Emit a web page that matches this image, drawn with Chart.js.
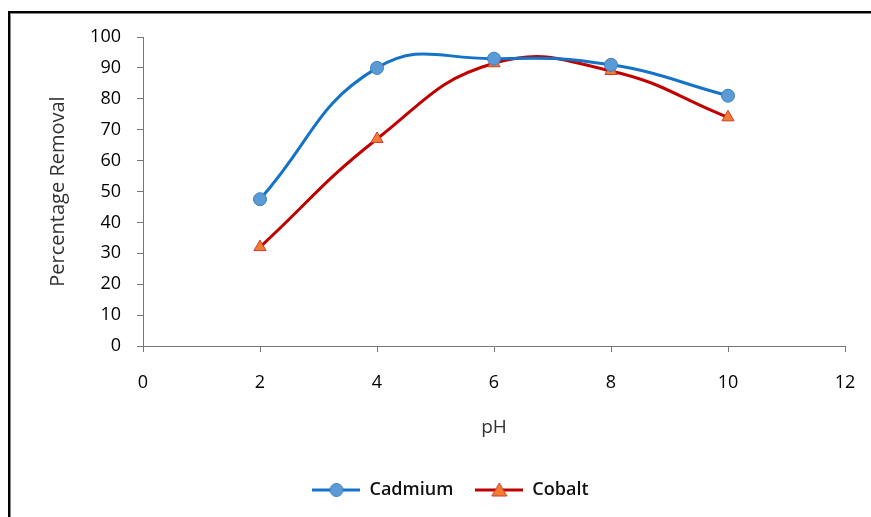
<!DOCTYPE html>
<html>
<head>
<meta charset="utf-8">
<script src="https://cdn.jsdelivr.net/npm/chart.js@4/dist/chart.umd.min.js"></script>
<style>
  html, body { margin: 0; padding: 0; background: #fff; }
  #wrap { position: relative; width: 871px; height: 517px; overflow: hidden; }
  #frame { position: absolute; left: 8px; top: 11px; width: 900px; height: 600px;
           border-left: 2px solid #000; border-top: 2px solid #000; box-shadow: inset 1px 1px 0 #888; pointer-events: none; }
  canvas { position: absolute; left: 0; top: 0; }
</style>
</head>
<body>
<div id="wrap">
  <canvas id="c" width="871" height="517"></canvas>
  <div id="frame"></div>
</div>
<script>
const pH = [2, 4, 6, 8, 10];
const cadmium = [47.5, 90, 93, 91, 81];
const cobalt = [32, 67, 91.5, 89, 74];
const xTitle = 'pH';
const yTitle = 'Percentage Removal';
const seriesNames = ['Cadmium', 'Cobalt'];

const blueLine = '#1473C6', blueFill = '#5B9BD5', blueEdge = '#3F7FC0';
const redLine = '#C00000', orangeFill = '#F07D32', redEdge = '#D0392B';

function legendImage(lineColor, style, fill, edge) {
  const c = document.createElement('canvas');
  c.width = 48; c.height = 16;
  const g = c.getContext('2d');
  g.strokeStyle = lineColor; g.lineWidth = 3;
  g.beginPath(); g.moveTo(0, 8); g.lineTo(48, 8); g.stroke();
  g.fillStyle = fill; g.strokeStyle = edge; g.lineWidth = 1;
  g.beginPath();
  if (style === 'circle') {
    g.arc(24, 8, 6.5, 0, Math.PI * 2);
  } else {
    g.moveTo(24, 1); g.lineTo(31.5, 14); g.lineTo(16.5, 14); g.closePath();
  }
  g.fill(); g.stroke();
  return c;
}

const toPts = (ys) => pH.map((x, i) => ({ x: x, y: ys[i] }));

const shiftLegend = {
  id: 'shiftLegend',
  afterLayout(chart) {
    const lg = chart.legend;
    if (lg) { lg.left += 28; lg.right += 28; }
  }
};

new Chart(document.getElementById('c'), {
  type: 'line',
  data: {
    datasets: [
      {
        label: seriesNames[0], data: toPts(cadmium),
        borderColor: blueLine, borderWidth: 3, tension: 0.45,
        pointStyle: 'circle', pointRadius: 6.5, pointBackgroundColor: blueFill,
        pointBorderColor: blueEdge, pointBorderWidth: 1,
        legendImg: legendImage(blueLine, 'circle', blueFill, blueEdge)
      },
      {
        label: seriesNames[1], data: toPts(cobalt),
        borderColor: redLine, borderWidth: 3, tension: 0.45,
        pointStyle: 'triangle', pointRadius: 7, pointBackgroundColor: orangeFill,
        pointBorderColor: redEdge, pointBorderWidth: 1,
        legendImg: legendImage(redLine, 'triangle', orangeFill, redEdge)
      }
    ]
  },
  plugins: [shiftLegend],
  options: {
    responsive: false,
    animation: false,
    layout: { padding: { left: 0, right: 26, top: 37, bottom: 8 } },
    plugins: {
      tooltip: { enabled: false },
      legend: {
        position: 'bottom',
        labels: {
          usePointStyle: true,
          pointStyleWidth: 48,
          padding: 22,
          color: '#111',
          font: { family: 'Open Sans', size: 18, weight: '600' },
          generateLabels: (chart) => chart.data.datasets.map((ds, i) => ({
            text: ds.label, pointStyle: ds.legendImg, fillStyle: ds.borderColor,
            strokeStyle: ds.borderColor, lineWidth: 0, hidden: false, datasetIndex: i,
            fontColor: '#111'
          }))
        }
      }
    },
    scales: {
      x: {
        type: 'linear', min: 0, max: 12,
        afterFit: (s) => { s.height = 113; s.paddingRight = 0; s.paddingLeft = 0; },
        ticks: { stepSize: 2, padding: 20, color: '#000', font: { family: 'Open Sans', size: 18 } },
        grid: { drawOnChartArea: false, drawTicks: true, tickLength: 6, color: '#777' },
        border: { color: '#777', width: 1 },
        title: { display: true, text: xTitle, color: '#333', padding: { bottom: 20 }, font: { family: 'Open Sans', size: 19 } }
      },
      y: {
        min: 0, max: 100,
        afterFit: (s) => { s.width = 143; },
        ticks: { stepSize: 10, padding: 16, color: '#000', font: { family: 'Open Sans', size: 18 } },
        grid: { drawOnChartArea: false, drawTicks: true, tickLength: 6, color: '#777' },
        border: { color: '#777', width: 1 },
        title: { display: true, text: yTitle, color: '#333', padding: { top: 46 }, font: { family: 'Open Sans', size: 20 } }
      }
    }
  }
});
</script>
</body>
</html>
